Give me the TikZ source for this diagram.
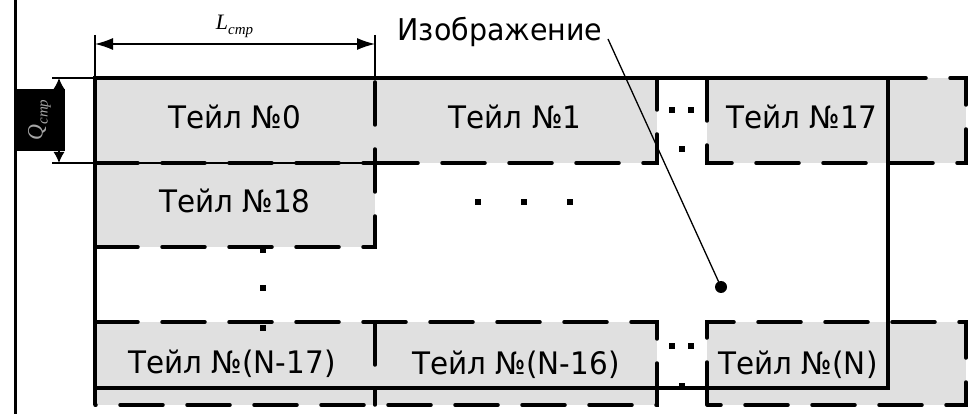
\documentclass[tikz,border=0pt]{standalone}
\usepackage{fontspec}
\newfontfamily\tilefont{DejaVu Sans}[FakeStretch=0.95]
\newfontfamily\lblfont{Liberation Serif}
\usetikzlibrary{arrows.meta}
\definecolor{tilegray}{RGB}{224,224,224}
\begin{document}
\begin{tikzpicture}[x=1pt,y=-1pt,
  framestyle/.style={line width=3.5pt},
  dashstyle/.style={line width=3.5pt, line cap=round, dash pattern=on 43pt off 24pt},
  fillstyle/.style={fill=tilegray, draw=none},
  tilelabel/.style={font=\tilefont\fontsize{31}{31}\selectfont, anchor=base, inner sep=0pt},
  dotsq/.style={fill=black, minimum size=6pt, inner sep=0pt, draw=none, rectangle},
  thinline/.style={line width=1.3pt},
  extline/.style={line width=2pt}]
\useasboundingbox (0,0) rectangle (978,414);
% gray tiles
\fill[fillstyle] (95,78) rectangle (657,163);
\fill[fillstyle] (707,78) rectangle (966,163);
\fill[fillstyle] (95,163) rectangle (375,247);
\fill[fillstyle] (95,322) rectangle (657,405);
\fill[fillstyle] (707,322) rectangle (966,405);
% outer left line
\draw[line width=3pt] (15,0) -- (15,414);
% extension lines
\draw[thinline] (52,78) -- (95,78);
\draw[thinline] (52,163) -- (375,163);
\draw[extline] (95,35) -- (95,78);
\draw[extline] (375,35) -- (375,78);
% dashed tile borders
\draw[dashstyle] (95,163) -- (375,163);
\draw[dashstyle] (95,247) -- (375,247) -- (375,78);
\draw[dashstyle] (375,163) -- (657,163) -- (657,78);
\draw[dashstyle] (707,78) -- (707,163) -- (966,163) -- (966,78) -- (888,78);
\draw[dashstyle] (95,322) -- (657,322) -- (657,405) -- (95,405);
\draw[dashstyle] (375,322) -- (375,405);
\draw[dashstyle] (707,405) -- (707,322) -- (966,322) -- (966,405) -- (707,405);
% image frame
\draw[framestyle] (95,78) rectangle (888,388);
\draw[framestyle] (95,388) -- (95,405);
% dots
\node[dotsq] (d1) at (672,110) {};
\node[dotsq] (d2) at (691,110) {};
\node[dotsq] (d3) at (682,149) {};
\node[dotsq] (d4) at (478,202) {};
\node[dotsq] (d5) at (524,202) {};
\node[dotsq] (d6) at (570,202) {};
\node[dotsq] (d7) at (263,250) {};
\node[dotsq] (d8) at (263,288) {};
\node[dotsq] (d9) at (263,328) {};
\node[dotsq] (d10) at (672,346) {};
\node[dotsq] (d11) at (691,346) {};
\node[dotsq] (d12) at (682,386) {};
% tile labels
\node[tilelabel] (t0) at (234.5,129) {Тейл №0};
\node[tilelabel] (t1) at (515,129) {Тейл №1};
\node[tilelabel] (t17) at (802,129) {Тейл №17};
\node[tilelabel] (t18) at (235,213) {Тейл №18};
\node[tilelabel] (tn17) at (232,373) {Тейл №(N-17)};
\node[tilelabel] (tn16) at (516,374) {Тейл №(N-16)};
\node[tilelabel] (tn) at (798,374) {Тейл №(N)};
% L dimension
\coordinate (la) at (95,44);
\coordinate (lb) at (375,44);
\draw[thinline, {Latex[length=18pt,width=12pt]}-{Latex[length=18pt,width=12pt]}] (la) -- (lb);
\node[anchor=base, inner sep=0pt] (lbl) at (234.5,30) {\lblfont\itshape\fontsize{22}{22}\selectfont L\raisebox{-5pt}{\fontsize{15}{15}\selectfont стр}};
% Q dimension
\coordinate (qa) at (59,78);
\coordinate (qb) at (59,163);
\draw[thinline, {Latex[length=11pt,width=11pt]}-{Latex[length=11pt,width=11pt]}] (qa) -- (qb);
\node[fill=black, minimum width=51pt, minimum height=62pt, inner sep=0pt] (qbox) at (39.5,120) {};
\node[rotate=90, inner sep=0pt, text=gray!70] (qlbl) at (qbox.center) {\lblfont\itshape\fontsize{22}{22}\selectfont Q\raisebox{-5pt}{\fontsize{15}{15}\selectfont стр}};
% image label and leader
\node[anchor=base, inner sep=0pt, font=\tilefont\fontsize{30}{30}\selectfont] (img) at (500,41) {Изображение};
\node[circle, fill=black, minimum size=12pt, inner sep=0pt] (imgdot) at (721,287) {};
\coordinate (leadstart) at (608,39);
\draw[thinline] (leadstart) -- (imgdot.center);
\end{tikzpicture}
\end{document}
